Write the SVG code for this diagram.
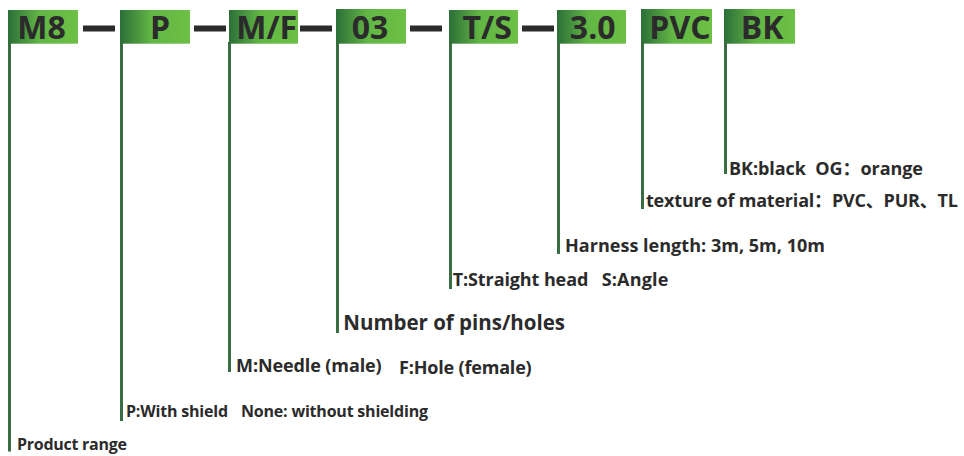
<svg xmlns="http://www.w3.org/2000/svg" width="964" height="456" viewBox="0 0 964 456">
<defs>
<linearGradient id="g" x1="0" y1="0" x2="1" y2="0">
<stop offset="0" stop-color="#2c6f38"/>
<stop offset="0.45" stop-color="#62b645"/>
<stop offset="1" stop-color="#6cc044"/>
</linearGradient>
</defs>
<style>
.box{fill:url(#g)}
.code{font-family:"Open Sans","Noto Sans",sans-serif;font-weight:700;font-size:32px;fill:#2b2b2b;text-anchor:middle}
.dash{fill:#2b2b2b}
.lead{stroke:#3a6d41;stroke-width:3;fill:none}
.lbl{font-family:"Open Sans","Noto Sans","Noto Sans CJK SC",sans-serif;font-weight:700;font-size:18px;fill:#2b2b2b}
.s16{font-size:16px}
.s21{font-size:20.5px}
</style>
<rect width="964" height="456" fill="#ffffff"/>
<g id="connectors">
<line class="lead" x1="9.5" y1="43" x2="9.5" y2="451.5"/>
<line class="lead" x1="121.5" y1="43" x2="121.5" y2="421"/>
<line class="lead" x1="229.5" y1="42" x2="229.5" y2="372"/>
<line class="lead" x1="337.5" y1="43" x2="337.5" y2="333"/>
<line class="lead" x1="450.5" y1="43" x2="450.5" y2="289"/>
<line class="lead" x1="558.5" y1="43" x2="558.5" y2="254"/>
<line class="lead" x1="642.5" y1="43" x2="642.5" y2="209"/>
<line class="lead" x1="725.5" y1="43" x2="725.5" y2="174"/>
</g>
<g id="dashes">
<rect class="dash" x="83" y="25.5" width="32" height="6"/>
<rect class="dash" x="194" y="25.5" width="32" height="6"/>
<rect class="dash" x="300" y="25.5" width="32" height="6"/>
<rect class="dash" x="410" y="25.5" width="32" height="6"/>
<rect class="dash" x="522" y="25.5" width="32" height="6"/>
</g>
<g id="node-m8">
<rect class="box" x="8" y="10" width="70" height="33.7"/>
<text class="code" x="41.5" y="39.3">M8</text>
<text class="lbl s16" x="17" y="450" textLength="110">Product range</text>
</g>
<g id="node-p">
<rect class="box" x="120" y="10" width="70" height="33.7"/>
<text class="code" x="160" y="39.3">P</text>
<text class="lbl s16" x="126" y="417" textLength="102">P:With shield</text>
<text class="lbl s16" x="241" y="417" textLength="187">None: without shielding</text>
</g>
<g id="node-mf">
<rect class="box" x="229" y="10" width="69" height="33.7"/>
<text class="code" x="266.7" y="39.3">M/F</text>
<text class="lbl" x="236" y="371.5" textLength="145.7">M:Needle (male)</text>
<text class="lbl" x="399" y="374.3" textLength="132.7">F:Hole (female)</text>
</g>
<g id="node-03">
<rect class="box" x="336" y="9" width="70" height="34.7"/>
<text class="code" x="370" y="39.3">03</text>
<text class="lbl s21" x="343.3" y="330" textLength="221.7">Number of pins/holes</text>
</g>
<g id="node-ts">
<rect class="box" x="449" y="10" width="69" height="33.7"/>
<text class="code" x="487.2" y="39.3">T/S</text>
<text class="lbl" x="452.7" y="286" textLength="135.6">T:Straight head</text>
<text class="lbl" x="601.7" y="286" textLength="66.6">S:Angle</text>
</g>
<g id="node-30">
<rect class="box" x="557" y="10" width="69" height="33.7"/>
<text class="code" x="592.7" y="39.3">3.0</text>
<text class="lbl" x="565" y="251.5" textLength="260">Harness length: 3m, 5m, 10m</text>
</g>
<g id="node-pvc">
<rect class="box" x="641" y="9" width="71" height="34.7"/>
<text class="code" x="680" y="39.3">PVC</text>
<text class="lbl" x="646" y="206.5" textLength="312">texture of material：PVC、PUR、TL</text>
</g>
<g id="node-bk">
<rect class="box" x="724" y="9" width="71" height="34.7"/>
<text class="code" x="762" y="39.3">BK</text>
<text class="lbl" x="729" y="175" textLength="194" xml:space="preserve">BK:black  OG：orange</text>
</g>
</svg>
